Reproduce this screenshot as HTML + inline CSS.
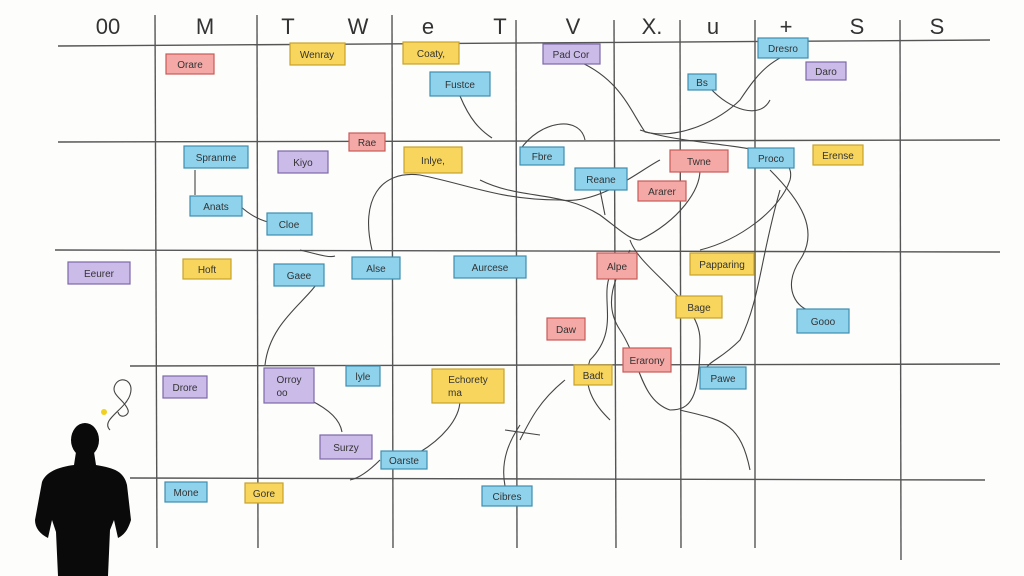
<!DOCTYPE html>
<html><head><meta charset="utf-8"><style>
html,body{margin:0;padding:0;background:#fdfdfc;}
svg{display:block}
text{font-family:"Liberation Sans",sans-serif;}
</style></head><body>
<svg width="1024" height="576" viewBox="0 0 1024 576" xmlns="http://www.w3.org/2000/svg">
<rect width="1024" height="576" fill="#fdfdfc"/>
<g stroke="#555" stroke-width="1.4" fill="none">
<path d="M58 46 L990 40"/>
<path d="M58 142 L1000 140"/>
<path d="M55 250 L1000 252"/>
<path d="M130 366 L1000 364"/>
<path d="M130 478 L985 480"/>
<path d="M155 15 L157 548"/>
<path d="M257 15 L258 548"/>
<path d="M392 15 L393 548"/>
<path d="M516 20 L517 548"/>
<path d="M614 20 L616 548"/>
<path d="M680 20 L681 548"/>
<path d="M755 20 L755 548"/>
<path d="M900 20 L901 560"/>
</g>
<g font-size="22" fill="#333" text-anchor="middle" font-family="Liberation Sans">
<text x="108" y="34">00</text><text x="205" y="34">M</text><text x="288" y="34">T</text>
<text x="358" y="34">W</text><text x="428" y="34">e</text><text x="500" y="34">T</text>
<text x="573" y="34">V</text><text x="652" y="34">X.</text><text x="713" y="34">u</text>
<text x="786" y="34">+</text><text x="857" y="34">S</text><text x="937" y="34">S</text>
</g>
<g stroke="#444" stroke-width="1.1" fill="none">
<path d="M460 96 C470 120 480 130 492 138"/>
<path d="M520 150 C540 120 580 115 585 140"/>
<path d="M580 62 C620 80 630 110 645 132 C680 140 720 120 740 100 C760 70 770 60 805 46"/>
<path d="M710 88 C730 110 760 120 770 100"/>
<path d="M640 130 C700 150 800 140 790 180 C780 210 740 240 700 250"/>
<path d="M372 250 C360 200 380 170 420 175 C470 185 500 200 560 200 C600 205 640 170 660 160"/>
<path d="M480 180 C520 200 560 190 600 215 C620 230 630 240 640 240 C680 220 700 190 700 170"/>
<path d="M600 190 L605 215"/>
<path d="M630 240 C640 270 700 300 700 340 C700 400 690 410 670 410 C640 400 640 360 620 330 C600 300 620 270 630 250"/>
<path d="M770 170 C800 200 820 230 800 260 C780 290 800 310 810 310"/>
<path d="M780 190 C760 260 760 300 740 340 C720 360 710 360 705 370"/>
<path d="M610 275 C600 300 620 330 590 360 C580 390 600 410 610 420"/>
<path d="M195 170 L195 195"/>
<path d="M240 206 C250 215 260 220 268 222"/>
<path d="M300 250 C320 255 330 258 335 256"/>
<path d="M320 278 C310 300 270 320 265 365"/>
<path d="M310 400 C330 410 340 420 342 432"/>
<path d="M460 400 C460 420 440 440 420 452"/>
<path d="M520 425 C510 440 500 460 505 486"/>
<path d="M505 430 L540 435"/>
<path d="M680 410 C720 420 740 420 750 470"/>
<path d="M380 460 C370 470 360 478 350 480"/>
<path d="M565 380 C540 400 530 420 520 440"/>
<path d="M110 430 C100 420 125 410 130 395 C135 380 120 375 115 385 C110 395 125 400 128 410 C130 415 120 420 118 412"/>
</g>
<g stroke-width="1.2" font-size="10" fill="#333" text-anchor="middle">
<g fill="#f4a9a6" stroke="#c85c58">
<rect x="166" y="54" width="48" height="20"/><rect x="349" y="133" width="36" height="18"/>
<rect x="670" y="150" width="58" height="22"/><rect x="638" y="181" width="48" height="20"/>
<rect x="597" y="253" width="40" height="26"/><rect x="547" y="318" width="38" height="22"/>
<rect x="623" y="348" width="48" height="24"/>
</g>
<g fill="#f8d65e" stroke="#c8a22a">
<rect x="290" y="43" width="55" height="22"/><rect x="403" y="42" width="56" height="22"/>
<rect x="813" y="145" width="50" height="20"/><rect x="404" y="147" width="58" height="26"/>
<rect x="183" y="259" width="48" height="20"/><rect x="690" y="253" width="64" height="22"/>
<rect x="676" y="296" width="46" height="22"/><rect x="432" y="369" width="72" height="34"/>
<rect x="574" y="365" width="38" height="20"/><rect x="245" y="483" width="38" height="20"/>
</g>
<g fill="#8fd2ec" stroke="#3d8db0">
<rect x="758" y="38" width="50" height="20"/><rect x="430" y="72" width="60" height="24"/>
<rect x="688" y="74" width="28" height="16"/><rect x="184" y="146" width="64" height="22"/>
<rect x="520" y="147" width="44" height="18"/><rect x="748" y="148" width="46" height="20"/>
<rect x="575" y="168" width="52" height="22"/><rect x="190" y="196" width="52" height="20"/>
<rect x="267" y="213" width="45" height="22"/><rect x="274" y="264" width="50" height="22"/>
<rect x="352" y="257" width="48" height="22"/><rect x="454" y="256" width="72" height="22"/>
<rect x="797" y="309" width="52" height="24"/><rect x="346" y="366" width="34" height="20"/>
<rect x="700" y="367" width="46" height="22"/><rect x="381" y="451" width="46" height="18"/>
<rect x="165" y="482" width="42" height="20"/><rect x="482" y="486" width="50" height="20"/>
</g>
<g fill="#cbbbe8" stroke="#7d68aa">
<rect x="543" y="44" width="57" height="20"/><rect x="806" y="62" width="40" height="18"/>
<rect x="278" y="151" width="50" height="22"/><rect x="68" y="262" width="62" height="22"/>
<rect x="163" y="376" width="44" height="22"/><rect x="264" y="368" width="50" height="35"/>
<rect x="320" y="435" width="52" height="24"/>
</g>
<g stroke="none">
<text x="190" y="68">Orare</text><text x="367" y="146">Rae</text><text x="699" y="165">Twne</text>
<text x="662" y="195">Ararer</text><text x="617" y="270">Alpe</text><text x="566" y="333">Daw</text>
<text x="647" y="364">Erarony</text>
<text x="317" y="58">Wenray</text><text x="431" y="57">Coaty,</text><text x="838" y="159">Erense</text>
<text x="433" y="164">Inlye,</text><text x="207" y="273">Hoft</text><text x="722" y="268">Papparing</text>
<text x="699" y="311">Bage</text><text x="468" y="383">Echorety</text><text x="455" y="396">ma</text>
<text x="593" y="379">Badt</text><text x="264" y="497">Gore</text>
<text x="783" y="52">Dresro</text><text x="460" y="88">Fustce</text><text x="702" y="86">Bs</text>
<text x="216" y="161">Spranme</text><text x="542" y="160">Fbre</text><text x="771" y="162">Proco</text>
<text x="601" y="183">Reane</text><text x="216" y="210">Anats</text><text x="289" y="228">Cloe</text>
<text x="299" y="279">Gaee</text><text x="376" y="272">Alse</text><text x="490" y="271">Aurcese</text>
<text x="823" y="325">Gooo</text><text x="363" y="380">lyle</text><text x="723" y="382">Pawe</text>
<text x="404" y="464">Oarste</text><text x="186" y="496">Mone</text><text x="507" y="500">Cibres</text>
<text x="571" y="58">Pad Cor</text><text x="826" y="75">Daro</text><text x="303" y="166">Kiyo</text>
<text x="99" y="277">Eeurer</text><text x="185" y="391">Drore</text><text x="289" y="383">Orroy</text>
<text x="282" y="396">oo</text><text x="346" y="451">Surzy</text>
</g>
</g>
<circle cx="104" cy="412" r="3" fill="#f0d020"/>
<g fill="#0a0a0a">
<ellipse cx="85" cy="440" rx="14" ry="17"/>
<path d="M76 452 L94 452 L96 465 C115 468 124 472 127 485 L131 520 C128 530 124 535 118 538 L114 520 L110 530 L108 576 L58 576 L56 532 L52 520 L48 538 C40 534 35 528 35 520 L42 482 C46 472 58 467 74 465 Z"/>
</g>
</svg>
</body></html>
